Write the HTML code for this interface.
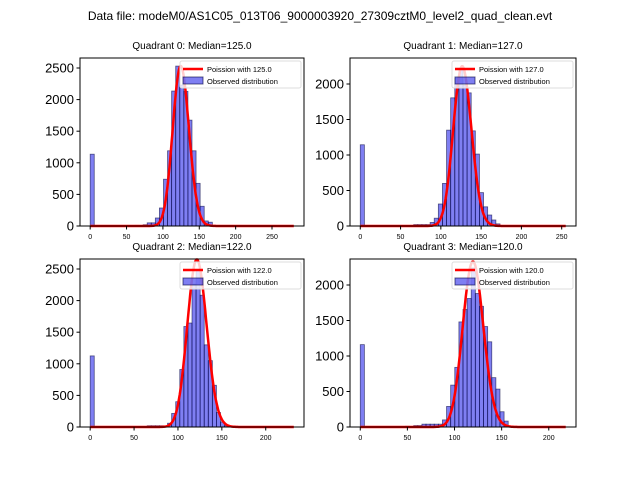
<!DOCTYPE html>
<html><head><meta charset="utf-8"><style>
body{margin:0;background:#fff;}
svg{display:block;font-family:"Liberation Sans","DejaVu Sans",sans-serif;}
</style></head><body>
<svg id="fig" width="640" height="480">
<text x="320" y="20" font-size="12" text-anchor="middle">Data file: modeM0/AS1C05_013T06_9000003920_27309cztM0_level2_quad_clean.evt</text>
</svg>
<script>
// histogram bin indices (50 bins spanning 0..max) and counts
const binIdx0=[0,11,13,14,15,16,17,18,19,20,21,22,23,24,25,26,27,28,29];
const counts0=[1136,10,20,50,50,127,285,740,1190,2135,2530,2230,2130,1675,1190,675,312,80,60];
const binIdx1=[0,13,14,15,16,17,18,19,20,21,22,23,24,25,26,27,28,29,30,31,32,33];
const counts1=[1144,20,20,20,20,50,110,310,600,1350,1805,2080,2200,1985,1875,1340,1013,470,270,155,85,30];
const binIdx2=[0,14,15,16,17,19,20,21,22,23,24,25,26,27,28,29,30,31,32,33];
const counts2=[1125,20,20,20,20,60,215,400,910,1590,1645,2260,2490,2085,1300,1050,660,230,80,20];
const binIdx3=[0,11,13,14,15,16,17,18,19,20,21,22,23,24,25,26,27,28,29,30,31,32,33,34,35];
const counts3=[1160,10,20,20,40,40,40,40,40,100,290,590,840,1480,1655,1810,2240,1880,1700,1415,1200,695,534,215,83];
const medians=[125.0,127.0,122.0,120.0];
const poissonPeaks=[2530,2250,2650,2330];
const xMaxData=[280,255,232,218];
const yMaxAxis=[2658,2366,2658,2366];
const yTicks0=[0,500,1000,1500,2000,2500];
const yTicks1=[0,500,1000,1500,2000];
const xTicks0=[0,50,100,150,200,250];
const xTicks2=[0,50,100,150,200];
const NBINS=50;
const panels=[
 {x:80,y:58,w:224,h:168,b:binIdx0,c:counts0,yt:yTicks0,xt:xTicks0},
 {x:350,y:58,w:226,h:168,b:binIdx1,c:counts1,yt:yTicks1,xt:xTicks0},
 {x:80,y:259,w:224,h:168,b:binIdx2,c:counts2,yt:yTicks0,xt:xTicks2},
 {x:350,y:259,w:226,h:168,b:binIdx3,c:counts3,yt:yTicks1,xt:xTicks2}
];
const NS="http://www.w3.org/2000/svg";
const fig=document.getElementById('fig');
function mk(t,a,p){const e=document.createElementNS(NS,t);for(const k in a)e.setAttribute(k,a[k]);(p||fig).appendChild(e);return e;}
panels.forEach((P,i)=>{
 const g=mk('g',{});
 
 
 const xmax=xMaxData[i], x0=-0.05*xmax, x1=xmax*1.05, bw=xmax/NBINS;
 const sx=v=>P.x+(v-x0)/(x1-x0)*P.w;
 const sy=v=>P.y+P.h-v/yMaxAxis[i]*P.h;
 const t=mk('text',{x:P.x+P.w/2,y:P.y-9,'font-size':10,'text-anchor':'middle'},g);
 t.textContent='Quadrant '+i+': Median='+medians[i].toFixed(1);
 
 
 P.b.forEach((k,j)=>{
  const s=k*bw;
  const r=mk('rect',{x:sx(s),y:sy(P.c[j]),width:sx(s+bw)-sx(s),height:sy(0)-sy(P.c[j]),fill:'rgba(0,0,230,0.5)',stroke:'rgba(0,0,60,0.6)','stroke-width':0.8},g);
  
  
 });
 const mu=medians[i]; let lp=-mu; const vals=[];
 for(let k=0;k<=xmax;k++){ if(k>0) lp+=Math.log(mu)-Math.log(k); vals.push(lp);}
 const mx=Math.max(...vals);
 let d='';
 vals.forEach((v,k)=>{d+=(k?'L':'M')+sx(k).toFixed(1)+','+sy(Math.exp(v-mx)*poissonPeaks[i]).toFixed(1);});
 const pl=mk('path',{d:d,fill:'none',stroke:'#ff0000','stroke-width':2.5,'stroke-linejoin':'round'},g);
 
 
 mk('rect',{x:P.x,y:P.y,width:P.w,height:P.h,fill:'none',stroke:'#000','stroke-width':1},g);
 P.yt.forEach(v=>{
  mk('line',{x1:P.x-3.5,x2:P.x,y1:sy(v),y2:sy(v),stroke:'#000'},g);
  const tx=mk('text',{x:P.x-6,y:sy(v)+4.5,'font-size':13,'text-anchor':'end'},g);
  tx.textContent=v;
  
  
 });
 P.xt.forEach(v=>{
  mk('line',{x1:sx(v),x2:sx(v),y1:P.y+P.h,y2:P.y+P.h+3.5,stroke:'#000'},g);
  const tx=mk('text',{x:sx(v),y:P.y+P.h+13,'font-size':7,'text-anchor':'middle'},g);
  tx.textContent=v;
  
  
 });
 const lx=P.x+P.w-124, ly=P.y+3;
 const lg=mk('g',{},g);
 
 
 mk('rect',{x:lx,y:ly,width:121,height:27,fill:'rgba(255,255,255,0.8)',stroke:'#ddd',rx:2},lg);
 mk('line',{x1:lx+3,x2:lx+23,y1:ly+8,y2:ly+8,stroke:'#ff0000','stroke-width':2.5},lg);
 mk('rect',{x:lx+3,y:ly+16,width:20,height:7,fill:'rgba(0,0,230,0.5)',stroke:'rgba(0,0,60,0.6)'},lg);
 const l1=mk('text',{x:lx+27,y:ly+11,'font-size':7.5},lg); l1.textContent='Poission with '+medians[i].toFixed(1);
 const l2=mk('text',{x:lx+27,y:ly+23,'font-size':7.5},lg); l2.textContent='Observed distribution';
});
</script>
</body></html>
